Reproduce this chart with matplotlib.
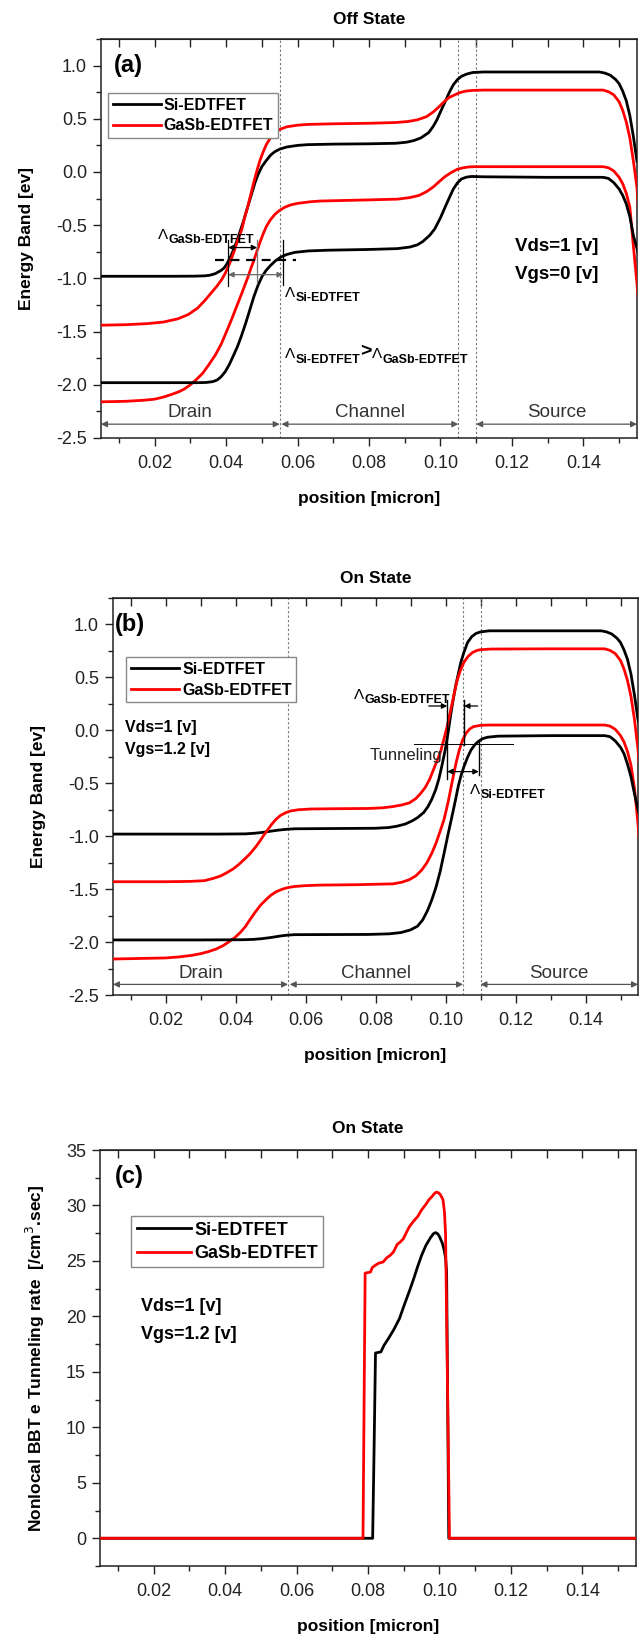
import matplotlib.pyplot as plt
from matplotlib.ticker import MultipleLocator

plt.rcParams['font.family'] = ['Liberation Sans', 'DejaVu Sans']
plt.rcParams['axes.unicode_minus'] = False

SI_COLOR = 'black'
GASB_COLOR = '#ff0000'
LW = 2.0

# ---------------- (a) off state band edges ----------------
a_si_cb_x = [0.005, 0.015, 0.025, 0.031, 0.034, 0.0355, 0.037, 0.0386, 0.0395, 0.0403, 0.0412,
             0.0421, 0.043, 0.0438, 0.0447, 0.0455, 0.0464, 0.0472, 0.0481, 0.049, 0.050,
             0.0513, 0.0525, 0.0536, 0.055, 0.057, 0.060, 0.0628, 0.07, 0.08, 0.0875, 0.0905,
             0.0925, 0.0945, 0.0967, 0.098, 0.099, 0.1002, 0.1013, 0.1025, 0.1036, 0.1048,
             0.1059, 0.1073, 0.109, 0.112, 0.13, 0.1445, 0.146, 0.1475, 0.149, 0.150, 0.151,
             0.152, 0.153, 0.154, 0.155]
a_si_cb_y = [-0.98, -0.98, -0.98, -0.979, -0.976, -0.97, -0.955, -0.925, -0.90, -0.86, -0.80,
             -0.73, -0.65, -0.57, -0.48, -0.39, -0.29, -0.20, -0.10, -0.02, 0.05,
             0.11, 0.16, 0.19, 0.215, 0.235, 0.25, 0.257, 0.262, 0.265, 0.27, 0.28,
             0.295, 0.32, 0.37, 0.43, 0.49, 0.58, 0.66, 0.75, 0.82, 0.87,
             0.90, 0.92, 0.935, 0.94, 0.94, 0.94, 0.93, 0.91, 0.87, 0.83, 0.76,
             0.67, 0.53, 0.33, 0.10]

a_gasb_cb_x = [0.005, 0.012, 0.018, 0.0225, 0.0265, 0.0294, 0.032, 0.034, 0.036, 0.0375,
               0.0388, 0.0398, 0.041, 0.0421, 0.0432, 0.0444, 0.0452, 0.0461, 0.047, 0.0478,
               0.0487, 0.0495, 0.0504, 0.0513, 0.0524, 0.0536, 0.055, 0.057, 0.060, 0.0628,
               0.07, 0.08, 0.0875, 0.091, 0.0935, 0.0961, 0.098, 0.0995, 0.101, 0.1024,
               0.104, 0.1053, 0.107, 0.109, 0.112, 0.13, 0.1455, 0.147, 0.1485, 0.150,
               0.151, 0.152, 0.153, 0.154, 0.155, 0.1555]
a_gasb_cb_y = [-1.44, -1.435, -1.425, -1.41, -1.38, -1.34, -1.28, -1.21, -1.13, -1.07,
               -1.01, -0.95, -0.86, -0.76, -0.65, -0.54, -0.43, -0.32, -0.20, -0.09,
               0.02, 0.11, 0.19, 0.26, 0.32, 0.365, 0.40, 0.425, 0.44, 0.447,
               0.453, 0.458, 0.465, 0.475, 0.49, 0.52, 0.565, 0.61, 0.66, 0.70,
               0.725, 0.745, 0.76, 0.767, 0.77, 0.77, 0.77, 0.755, 0.725, 0.66,
               0.58, 0.47, 0.32, 0.10, -0.15, -0.40]

a_gasb_vb_x = [0.005, 0.012, 0.017, 0.02, 0.0225, 0.0248, 0.0268, 0.0283, 0.030, 0.0317,
               0.0335, 0.0352, 0.037, 0.0386, 0.040, 0.0415, 0.043, 0.0444, 0.0453, 0.0462,
               0.047, 0.0478, 0.0487, 0.0495, 0.0504, 0.0513, 0.0524, 0.0536, 0.055, 0.0565,
               0.058, 0.060, 0.0635, 0.0662, 0.08, 0.088, 0.0915, 0.094, 0.0961, 0.098,
               0.0995, 0.1012, 0.103, 0.1047, 0.1064, 0.108, 0.110, 0.13, 0.1455, 0.147,
               0.1485, 0.150, 0.151, 0.152, 0.153, 0.154, 0.155, 0.1555]
a_gasb_vb_y = [-2.16, -2.155, -2.145, -2.135, -2.115, -2.09, -2.065, -2.04, -2.00, -1.95,
               -1.89, -1.81, -1.72, -1.62, -1.51, -1.39, -1.26, -1.14, -1.06, -0.98,
               -0.90, -0.83, -0.74, -0.66, -0.58, -0.51, -0.45, -0.40, -0.36, -0.33,
               -0.31, -0.295, -0.28, -0.273, -0.262, -0.255, -0.24, -0.22, -0.185, -0.14,
               -0.095, -0.045, -0.005, 0.025, 0.04, 0.048, 0.05, 0.05, 0.05, 0.04,
               0.01, -0.05, -0.11, -0.20, -0.33, -0.70, -1.05, -1.24]

a_si_vb_x = [0.005, 0.02, 0.032, 0.0345, 0.0363, 0.0375, 0.0386, 0.0398, 0.0409, 0.042,
             0.0432, 0.0443, 0.0455, 0.0467, 0.0478, 0.049, 0.0501, 0.0512, 0.0524, 0.0538,
             0.0553, 0.057, 0.0593, 0.063, 0.0685, 0.08, 0.088, 0.0915, 0.0935, 0.095,
             0.097, 0.0984, 0.100, 0.1013, 0.1025, 0.1036, 0.1048, 0.1059, 0.1073, 0.1087,
             0.112, 0.13, 0.1455, 0.147, 0.1485, 0.150, 0.151, 0.152, 0.153, 0.154,
             0.155, 0.1555]
a_si_vb_y = [-1.98, -1.98, -1.98, -1.978, -1.97, -1.955, -1.925, -1.875, -1.81, -1.73,
             -1.64, -1.54, -1.42, -1.29, -1.17, -1.06, -0.98, -0.925, -0.88, -0.835,
             -0.80, -0.775, -0.755, -0.742, -0.735, -0.728, -0.72, -0.705, -0.685, -0.655,
             -0.595, -0.535, -0.43, -0.33, -0.24, -0.16, -0.10, -0.065, -0.048, -0.042,
             -0.045, -0.05, -0.05, -0.06, -0.10, -0.16, -0.22, -0.30, -0.42, -0.60,
             -0.72, -0.78]

# ---------------- (b) on state band edges ----------------
b_si_cb_x = [0.005, 0.02, 0.035, 0.0428, 0.0455, 0.0475, 0.050, 0.0522, 0.0545, 0.0569,
             0.0662, 0.08, 0.0838, 0.0862, 0.0885, 0.0905, 0.092, 0.0938, 0.095, 0.0961,
             0.0972, 0.0981, 0.099, 0.100, 0.1008, 0.1015, 0.1022, 0.1029, 0.1037, 0.1044,
             0.1053, 0.1063, 0.1075, 0.1087, 0.110, 0.1125, 0.13, 0.1445, 0.146, 0.1475,
             0.149, 0.150, 0.151, 0.152, 0.153, 0.154, 0.155, 0.1555]
b_si_cb_y = [-0.98, -0.98, -0.98, -0.978, -0.972, -0.965, -0.953, -0.943, -0.935, -0.93,
             -0.928, -0.925, -0.918, -0.905, -0.885, -0.855, -0.825, -0.775, -0.72, -0.65,
             -0.56, -0.46, -0.33, -0.17, -0.01, 0.15, 0.29, 0.42, 0.54, 0.645,
             0.74, 0.83, 0.885, 0.915, 0.93, 0.94, 0.94, 0.94, 0.93, 0.91,
             0.87, 0.83, 0.76, 0.67, 0.53, 0.33, 0.10, 0.04]

b_gasb_cb_x = [0.005, 0.02, 0.027, 0.0311, 0.0335, 0.0358, 0.0375, 0.0393, 0.041, 0.0428,
               0.0443, 0.0458, 0.047, 0.0481, 0.0493, 0.0504, 0.0516, 0.0528, 0.0542, 0.0557,
               0.058, 0.0616, 0.07, 0.078, 0.082, 0.085, 0.0875, 0.0897, 0.0915, 0.0928,
               0.0942, 0.0955, 0.0967, 0.0978, 0.0986, 0.0995, 0.1005, 0.1012, 0.102, 0.1027,
               0.1034, 0.1043, 0.1053, 0.1065, 0.1077, 0.109, 0.1101, 0.113, 0.13, 0.1455,
               0.147, 0.1485, 0.150, 0.151, 0.152, 0.153, 0.154, 0.155, 0.1555]
b_gasb_cb_y = [-1.43, -1.43, -1.427, -1.42, -1.40, -1.375, -1.345, -1.31, -1.265, -1.21,
               -1.16, -1.10, -1.045, -0.99, -0.935, -0.885, -0.84, -0.805, -0.78, -0.762,
               -0.75, -0.743, -0.74, -0.738, -0.732, -0.72, -0.705, -0.685, -0.645, -0.60,
               -0.54, -0.46, -0.36, -0.27, -0.20, -0.09, 0.04, 0.15, 0.27, 0.38,
               0.48, 0.57, 0.645, 0.70, 0.735, 0.755, 0.762, 0.768, 0.77, 0.77,
               0.755, 0.725, 0.66, 0.58, 0.47, 0.32, 0.10, -0.18, -0.40]

b_gasb_vb_x = [0.005, 0.02, 0.024, 0.0276, 0.030, 0.0323, 0.0345, 0.0364, 0.038, 0.0399,
               0.0415, 0.0428, 0.0443, 0.0458, 0.0472, 0.0487, 0.050, 0.0516, 0.0534, 0.055,
               0.0569, 0.06, 0.0639, 0.075, 0.085, 0.0875, 0.0897, 0.0915, 0.0932, 0.0947,
               0.0961, 0.0973, 0.0984, 0.0996, 0.1008, 0.102, 0.103, 0.1039, 0.1049, 0.1059,
               0.107, 0.108, 0.11, 0.112, 0.13, 0.1455, 0.147, 0.1485, 0.150, 0.151,
               0.152, 0.153, 0.154, 0.155, 0.1555]
b_gasb_vb_y = [-2.16, -2.15, -2.14, -2.125, -2.11, -2.09, -2.065, -2.035, -2.00, -1.955,
               -1.905, -1.855, -1.78, -1.71, -1.65, -1.60, -1.56, -1.525, -1.50, -1.485,
               -1.475, -1.467, -1.462, -1.458, -1.45, -1.435, -1.41, -1.375, -1.32, -1.25,
               -1.16, -1.065, -0.96, -0.84, -0.67, -0.47, -0.31, -0.19, -0.09, -0.025,
               0.015, 0.035, 0.047, 0.05, 0.05, 0.05, 0.04, 0.01, -0.05, -0.11,
               -0.20, -0.33, -0.55, -0.88, -1.10]

b_si_vb_x = [0.005, 0.03, 0.042, 0.045, 0.0475, 0.0499, 0.052, 0.0534, 0.055, 0.0569,
             0.078, 0.084, 0.0873, 0.09, 0.092, 0.0935, 0.0949, 0.0961, 0.0973, 0.0985,
             0.0996, 0.1008, 0.102, 0.1029, 0.1037, 0.1045, 0.1053, 0.1063, 0.1073, 0.1083,
             0.1092, 0.1105, 0.112, 0.115, 0.13, 0.1455, 0.147, 0.1485, 0.150, 0.151,
             0.152, 0.153, 0.154, 0.155, 0.1555]
b_si_vb_y = [-1.98, -1.98, -1.978, -1.975, -1.968, -1.958, -1.947, -1.94, -1.934, -1.93,
             -1.928, -1.922, -1.91, -1.885, -1.85, -1.79, -1.70, -1.60, -1.48, -1.33,
             -1.16, -0.97, -0.79, -0.65, -0.52, -0.42, -0.34, -0.255, -0.185, -0.14,
             -0.11, -0.08, -0.065, -0.055, -0.05, -0.05, -0.06, -0.10, -0.16, -0.22,
             -0.32, -0.44, -0.60, -0.75, -0.81]

# ---------------- (c) nonlocal BBT electron tunneling rate ----------------
c_si_x = [0.005, 0.0813, 0.0817, 0.0821, 0.0836, 0.0845, 0.0859, 0.0872, 0.0888, 0.090,
          0.0916, 0.0928, 0.0939, 0.095, 0.0962, 0.0975, 0.0983, 0.0989, 0.0995, 0.1,
          0.1008, 0.1013, 0.1017, 0.102, 0.1026, 0.155]
c_si_y = [0, 0, 8.0, 16.7, 16.8, 17.4, 18.1, 18.8, 19.8, 20.9,
          22.3, 23.4, 24.5, 25.5, 26.4, 27.1, 27.45, 27.55, 27.45, 27.2,
          26.6, 26.0, 25.3, 24.0, 0, 0]

c_gasb_x = [0.005, 0.0786, 0.0792, 0.0807, 0.0812, 0.082, 0.083, 0.0842, 0.0853, 0.0862,
            0.0871, 0.0882, 0.089, 0.0899, 0.0908, 0.0916, 0.0928, 0.0939, 0.095, 0.0962,
            0.097, 0.0979, 0.0985, 0.0991, 0.0997, 0.1002, 0.1007, 0.101, 0.1014, 0.1017,
            0.1028, 0.155]
c_gasb_y = [0, 0, 23.9, 24.0, 24.4, 24.6, 24.8, 24.9, 25.3, 25.5,
            25.8, 26.5, 26.7, 27.0, 27.6, 28.1, 28.6, 29.0, 29.6, 30.1,
            30.5, 30.8, 31.05, 31.2, 31.15, 31.0, 30.7, 30.5, 29.4, 27.5,
            0, 0]

regions = ['Drain', 'Channel', 'Source']
region_bounds = [(0.005, 0.055), (0.0555, 0.105), (0.110, 0.155)]
region_lines = [0.055, 0.105, 0.110]


def style_axes(ax, ymajor, yminor):
    ax.set_xlim(0.005, 0.155)
    ax.xaxis.set_major_locator(MultipleLocator(0.02))
    ax.xaxis.set_minor_locator(MultipleLocator(0.01))
    ax.yaxis.set_major_locator(MultipleLocator(ymajor))
    ax.yaxis.set_minor_locator(MultipleLocator(yminor))
    ax.tick_params(which='major', direction='out', length=6, width=1, labelsize=13,
                   colors='#222222', pad=4)
    ax.tick_params(axis='x', which='major', pad=6)
    ax.tick_params(which='minor', direction='out', length=3.5, width=1, colors='#222222')
    for sp in ax.spines.values():
        sp.set_color('#222222')
        sp.set_linewidth(1.1)
    # top axis: inward ticks every 0.01, no labels
    top = ax.secondary_xaxis('top')
    top.xaxis.set_major_locator(MultipleLocator(0.01))
    top.tick_params(direction='in', length=6, width=1, labeltop=False, colors='#222222')
    top.spines['top'].set_color('#222222')
    ax.set_xlabel('position [micron]', fontsize=12.5, fontweight='bold', labelpad=14)


def lam(ax, x, y, sub, size=11, subsize=9):
    t = ax.text(x, y, 'Λ', fontsize=size, va='bottom', ha='left')
    s = ax.annotate(sub, xy=(1, 0), xycoords=t, xytext=(0.3, -3), textcoords='offset points',
                    fontsize=subsize, fontweight='bold', va='bottom', ha='left')
    return t, s


def arrow(ax, x0, x1, y, style='<|-|>', color='#444444', lw=0.8, ms=8):
    ax.annotate('', xy=(x1, y), xytext=(x0, y),
                arrowprops=dict(arrowstyle=style, color=color, lw=lw, shrinkA=0, shrinkB=0,
                                mutation_scale=ms))


def regions_marks(ax, y_arrow, y_text):
    for xv in region_lines:
        ax.axvline(xv, color='#777777', lw=0.8, ls=(0, (2, 2)), zorder=1)
    for name, (x0, x1) in zip(regions, region_bounds):
        arrow(ax, x0, x1, y_arrow, color='#555555', lw=0.9, ms=9)
        ax.text((x0 + x1) / 2, y_text, name, ha='center', va='center', fontsize=13.5,
                color='#333333')


def band_legend(ax, anchor, size):
    leg = ax.legend(loc='upper left', bbox_to_anchor=anchor, fontsize=size, frameon=True,
                    fancybox=False, edgecolor='#888888', framealpha=1, borderpad=0.3,
                    handlelength=3.0, handletextpad=0.2, labelspacing=0.35, borderaxespad=0)
    for t in leg.get_texts():
        t.set_fontweight('bold')
    leg.get_frame().set_linewidth(1.0)


fig = plt.figure(figsize=(6.4, 16.51), dpi=100)
W, H = 640.0, 1651.0


def add_axes(l, t, r, b):
    return fig.add_axes([l / W, 1 - b / H, (r - l) / W, (b - t) / H])


# ---------- panel (a) ----------
ax = add_axes(101, 39, 637, 438)
ax.plot(a_si_cb_x, a_si_cb_y, color=SI_COLOR, lw=LW, label='Si-EDTFET', zorder=3)
ax.plot(a_gasb_cb_x, a_gasb_cb_y, color=GASB_COLOR, lw=LW, label='GaSb-EDTFET', zorder=3)
ax.plot(a_gasb_vb_x, a_gasb_vb_y, color=GASB_COLOR, lw=LW, zorder=3)
ax.plot(a_si_vb_x, a_si_vb_y, color=SI_COLOR, lw=LW, zorder=3)
ax.set_ylim(-2.5, 1.25)
style_axes(ax, 0.5, 0.25)
ax.set_ylabel('Energy Band [ev]', fontsize=12.5, fontweight='bold', labelpad=16)
ax.set_title('Off State', fontsize=12.5, fontweight='bold', pad=11)
regions_marks(ax, -2.37, -2.26)
band_legend(ax, (0.013, 0.865), 11.5)
ax.text(0.0087, 1.0, '(a)', fontsize=17, fontweight='bold', va='center', ha='left')
ax.text(0.1208, -0.70, 'Vds=1 [v]', fontsize=13.5, fontweight='bold', va='center')
ax.text(0.1208, -0.96, 'Vgs=0 [v]', fontsize=13.5, fontweight='bold', va='center')

# tunneling width markers
ax.plot([0.0369, 0.0595], [-0.83, -0.83], color='black', lw=1.6, ls=(0, (4, 3)), zorder=4)
for xv, y0, y1, c in [(0.0406, -0.64, -1.07, 'black'), (0.0487, -0.64, -1.04, '#777777'),
                      (0.0559, -0.64, -1.06, 'black')]:
    ax.plot([xv, xv], [y0, y1], color=c, lw=0.9, zorder=4)
arrow(ax, 0.0406, 0.0487, -0.71, color='black', lw=0.9, ms=8)
arrow(ax, 0.0406, 0.0559, -0.965, color='#666666', lw=0.9, ms=8)
lam(ax, 0.0208, -0.66, 'GaSb-EDTFET')
lam(ax, 0.0564, -1.20, 'Si-EDTFET')
t1, s1 = lam(ax, 0.0564, -1.78, 'Si-EDTFET')
gt = ax.annotate('>', xy=(1, 0), xycoords=(s1, t1), xytext=(0, 1), textcoords='offset points',
                 fontsize=14, fontweight='bold', va='bottom', ha='left')
t2 = ax.annotate('Λ', xy=(1, 0), xycoords=(gt, t1), fontsize=11, va='bottom', ha='left')
ax.annotate('GaSb-EDTFET', xy=(1, 0), xycoords=t2, xytext=(0.3, -3),
            textcoords='offset points', fontsize=9, fontweight='bold', va='bottom', ha='left')

# ---------- panel (b) ----------
ax = add_axes(113, 598, 638, 995)
ax.plot(b_si_cb_x, b_si_cb_y, color=SI_COLOR, lw=LW, label='Si-EDTFET', zorder=3)
ax.plot(b_gasb_cb_x, b_gasb_cb_y, color=GASB_COLOR, lw=LW, label='GaSb-EDTFET', zorder=3)
ax.plot(b_gasb_vb_x, b_gasb_vb_y, color=GASB_COLOR, lw=LW, zorder=3)
ax.plot(b_si_vb_x, b_si_vb_y, color=SI_COLOR, lw=LW, zorder=3)
ax.set_ylim(-2.5, 1.25)
style_axes(ax, 0.5, 0.25)
ax.set_ylabel('Energy Band [ev]', fontsize=12.5, fontweight='bold', labelpad=16)
ax.set_title('On State', fontsize=12.5, fontweight='bold', pad=11)
regions_marks(ax, -2.40, -2.30)
band_legend(ax, (0.025, 0.851), 11.5)
ax.text(0.0054, 1.0, '(b)', fontsize=17, fontweight='bold', va='center', ha='left')
ax.text(0.0083, 0.03, 'Vds=1 [v]', fontsize=11.5, fontweight='bold', va='center')
ax.text(0.0083, -0.18, 'Vgs=1.2 [v]', fontsize=11.5, fontweight='bold', va='center')

ax.plot([0.0909, 0.1193], [-0.13, -0.13], color='black', lw=0.7, zorder=4)
ax.text(0.0991, -0.24, 'Tunneling', fontsize=12, ha='right', va='center', color='#222222')
for xv, y0, y1 in [(0.1005, 0.29, -0.46), (0.1053, 0.29, -0.14), (0.1095, -0.11, -0.42)]:
    ax.plot([xv, xv], [y0, y1], color='black', lw=1.0, zorder=4)
arrow(ax, 0.0952, 0.1005, 0.23, style='-|>', color='black', lw=0.9, ms=8)
arrow(ax, 0.1092, 0.1053, 0.23, style='-|>', color='black', lw=0.9, ms=8)
arrow(ax, 0.1005, 0.1095, -0.39, color='black', lw=0.9, ms=8)
lam(ax, 0.0739, 0.27, 'GaSb-EDTFET')
lam(ax, 0.1070, -0.63, 'Si-EDTFET')

# ---------- panel (c) ----------
ax = add_axes(100, 1150, 636, 1566)
ax.plot(c_si_x, c_si_y, color=SI_COLOR, lw=LW, label='Si-EDTFET', zorder=3)
ax.plot(c_gasb_x, c_gasb_y, color=GASB_COLOR, lw=LW, label='GaSb-EDTFET', zorder=3)
ax.set_ylim(-2.5, 35)
style_axes(ax, 5, 2.5)
ax.set_ylabel('Nonlocal BBT e Tunneling rate  [/cm$^3$.sec]', fontsize=12.5,
              fontweight='bold', labelpad=14)
ax.set_title('On State', fontsize=12.5, fontweight='bold', pad=12)
band_legend(ax, (0.058, 0.841), 13)
ax.text(0.0091, 32.6, '(c)', fontsize=17, fontweight='bold', va='center', ha='left')
ax.text(0.0166, 20.9, 'Vds=1 [v]', fontsize=13, fontweight='bold', va='center')
ax.text(0.0166, 18.4, 'Vgs=1.2 [v]', fontsize=13, fontweight='bold', va='center')

fig.savefig('out.png', dpi=100)
